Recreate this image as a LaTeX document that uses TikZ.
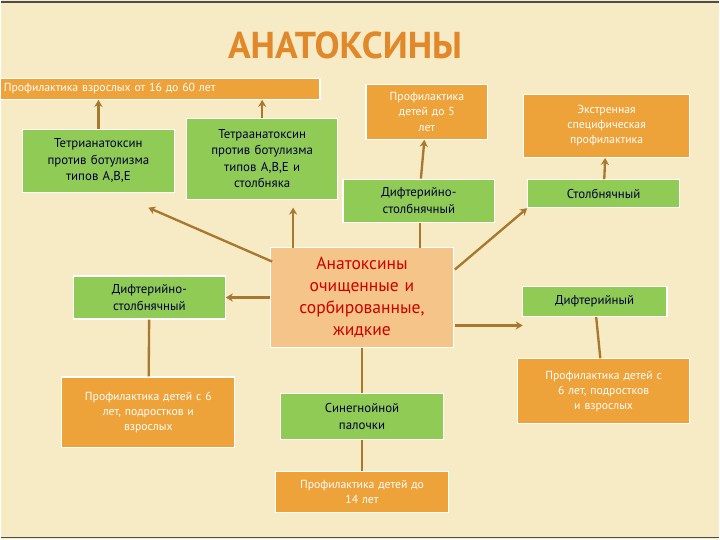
\documentclass[tikz,border=0pt]{standalone}
\usepackage{fontspec}
\setmainfont{PT Sans}
\usetikzlibrary{arrows.meta}
\definecolor{bgc}{HTML}{F7EBC6}
\definecolor{orbox}{HTML}{EDA23A}
\definecolor{grbox}{HTML}{8FCB55}
\definecolor{cbox}{HTML}{F5C488}
\definecolor{arr}{HTML}{A8782E}
\definecolor{ttl}{HTML}{E0882A}
\tikzset{
  box/.style={draw=white, line width=1pt, align=center, inner sep=2pt},
  green/.style={box, fill=grbox, text=black!80!blue, font=\fontsize{11}{14}\selectfont},
  orange/.style={box, fill=orbox, text=white, font=\fontsize{10}{13}\selectfont},
  link/.style={draw=arr, line width=2pt},
  linkarr/.style={link, -{Stealth[length=6pt,width=7pt]}}
}
\begin{document}
\begin{tikzpicture}[x=0.03cm, y=-0.03cm]
        \fill[bgc] (0,0) rectangle (720,540);
        \draw[black!70, line width=1pt] (0,2) -- (720,2);
        \draw[black!70, line width=1pt] (0,538) -- (720,538);
        \node[font=\bfseries\fontsize{32}{34}\selectfont, text=ttl] (title) at (345,45) {АНАТОКСИНЫ};
        % orange boxes
        \node[orange, minimum width=9.6cm, minimum height=0.63cm, text width=9.4cm, align=left] (p16) at (160,89) {Профилактика взрослых от 16 до 60 лет};
        \node[orange, minimum width=3.66cm, minimum height=1.65cm, text width=3.4cm] (p5) at (427,112) {Профилактика\\ детей до 5\\ лет};
        \node[orange, minimum width=5.0cm, minimum height=1.9cm, text width=4.7cm] (extr) at (607,126) {Экстренная\\ специфическая\\ профилактика};
        \node[orange, minimum width=5.2cm, minimum height=2.13cm, text width=4.9cm, anchor=north] (p6l) at (148,377) {Профилактика детей с 6\\ лет, подростков и\\ взрослых};
        \node[orange, minimum width=5.2cm, minimum height=1.23cm, text width=4.9cm, anchor=north] (p14) at (362,472) {Профилактика детей до\\ 14 лет};
        \node[orange, minimum width=5.16cm, minimum height=1.95cm, text width=4.9cm] (p6r) at (604,392) {Профилактика детей с\\ 6 лет, подростков\\ и взрослых};
        % green boxes
        \node[green, minimum width=4.56cm, minimum height=1.9cm, text width=4.3cm] (tetri) at (98,161) {Тетрианатоксин\\ против ботулизма\\ типов А,В,Е};
        \node[green, minimum width=4.53cm, minimum height=2.43cm, text width=4.3cm] (tetra) at (262,159) {Тетраанатоксин\\ против ботулизма\\ типов А,В,Е и\\ столбняка};
        \node[green, minimum width=4.56cm, minimum height=1.29cm, text width=4.3cm] (dtsc) at (419,201) {Дифтерийно-\\ столбнячный};
        \node[green, minimum width=4.56cm, minimum height=0.84cm, text width=4.3cm] (stolb) at (604,194) {Столбнячный};
        \node[green, minimum width=4.56cm, minimum height=1.29cm, text width=4.3cm] (dtsl) at (149,298) {Дифтерийно-\\ столбнячный};
        \node[green, minimum width=4.35cm, minimum height=0.9cm, text width=4.1cm] (dift) at (595,302) {Дифтерийный};
        \node[green, minimum width=4.89cm, minimum height=1.38cm, text width=4.6cm] (sine) at (362,417) {Синегнойной\\ палочки};
        % centre
        \node[box, fill=cbox, text=red!80!black, font=\fontsize{15}{19}\selectfont, minimum width=5.5cm, minimum height=3.0cm, text width=5.2cm] (anat) at (362,298) {Анатоксины\\ очищенные и\\ сорбированные,\\ жидкие};
        % free ends
        \coordinate (c1) at (272,262);
        \coordinate (e1) at (148,208);
        \coordinate (c2) at (293,248);
        \coordinate (e2) at (293,208);
        \coordinate (c3) at (420,248);
        \coordinate (c4) at (455,270);
        \coordinate (c5) at (455,326);
        \coordinate (e5) at (523,326);
        % connectors
        \foreach \m/\n in {dtsc/p5, stolb/extr, c1/e1, c2/e2, c4/stolb.south west, c5/e5}{
            \draw[linkarr] (\m) -- (\n);
        }
        \foreach \m in {tetri, tetra}{
            \draw[linkarr] (\m.north) -- (\m.north |- p16.south);
        }
        \draw[link] (c3) -- (dtsc.south -| c3);
        \draw[linkarr] (anat.west |- dtsl) -- (dtsl);
        \foreach \m/\n in {dtsl/p6l, anat/sine, sine/p14, dift/p6r}{
            \draw[link] (\m) -- (\n);
        }
    \end{tikzpicture}
\end{document}
